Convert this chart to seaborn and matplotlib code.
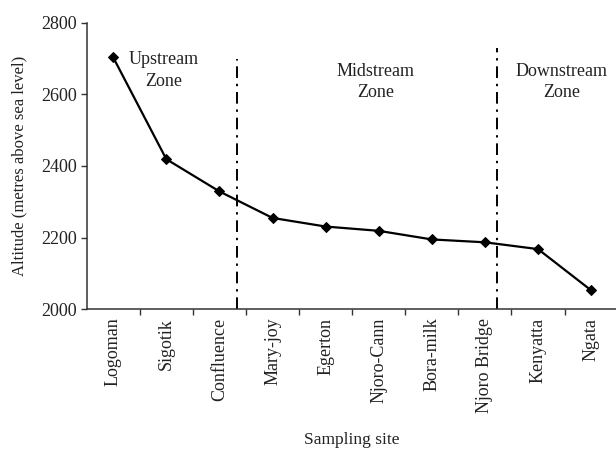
import matplotlib
matplotlib.use("Agg")
import matplotlib.pyplot as plt
import seaborn as sns
import pandas as pd

sites = ["Logoman", "Sigotik", "Confluence", "Mary-joy", "Egerton", "Njoro-Cann",
         "Bora-milk", "Njoro Bridge", "Kenyatta", "Ngata"]
altitude = [2703, 2419, 2329, 2255, 2231, 2219, 2195, 2187, 2168, 2053]
yticks = [2000, 2200, 2400, 2600, 2800]
zone_names = ["Upstream\nZone", "Midstream\nZone", "Downstream\nZone"]

sns.set_style("ticks")
plt.rcParams['font.family'] = ['Liberation Serif', 'DejaVu Serif']

df = pd.DataFrame({"site": sites, "alt": altitude})

fig = plt.figure(figsize=(6.16, 4.51), dpi=100)
ax = fig.add_axes([0.1407, 0.3142, 0.862, 0.6355])

sns.lineplot(data=df, x="site", y="alt", sort=False, color="black", marker="D",
             markersize=5, markeredgecolor="black", linewidth=1.6, ax=ax)

# zone separators
ax.plot([2.34, 2.34], [2000, 2699], color="black", linewidth=1.4, dashes=(6, 3, 1.2, 3))
ax.plot([7.23, 7.23], [2000, 2730], color="black", linewidth=1.4, dashes=(6, 3, 1.2, 3))

txt = dict(ha="center", va="center", fontsize=13, color="#222222", linespacing=1.35)
ax.text(0.95, 2667, zone_names[0], **txt)
ax.text(4.94, 2634, zone_names[1], **txt)
ax.text(8.44, 2634, zone_names[2], **txt)

ax.set_xlim(-0.5, 9.5)
ax.set_ylim(2000, 2800)
ax.set_yticks(yticks)
ax.set_xticks(range(len(sites)))
ax.set_xticklabels(sites, rotation=90, fontsize=13, color="#222222")
ax.set_xticks([i + 0.5 for i in range(len(sites) - 1)], minor=True)
ax.tick_params(axis="x", which="major", length=0, pad=6)
ax.tick_params(axis="x", which="minor", length=4, width=1, color="#333333")
ax.tick_params(axis="y", length=4, width=1, color="#333333", labelsize=13, labelcolor="#222222", pad=3)

ax.set_xlabel("Sampling site", fontsize=12.5, color="#222222", labelpad=14)
ax.set_ylabel("Altitude (metres above sea level)", fontsize=12, color="#222222", labelpad=10)

for s in ["top", "right"]:
    ax.spines[s].set_visible(False)
for s in ["left", "bottom"]:
    ax.spines[s].set_color("#333333")
    ax.spines[s].set_linewidth(1.1)

fig.savefig("out.png", dpi=100)
